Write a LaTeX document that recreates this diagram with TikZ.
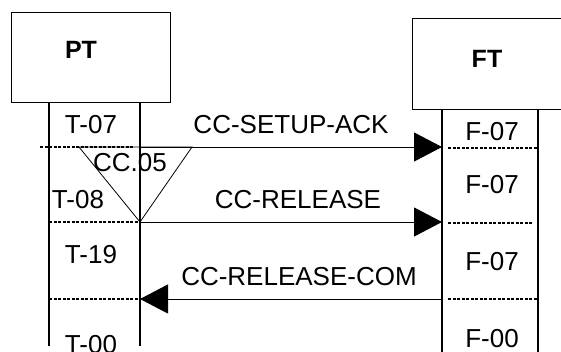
\documentclass[tikz,border=0pt]{standalone}
\usepackage{fontspec}
\setmainfont{Liberation Sans}
\usetikzlibrary{arrows.meta}
\begin{document}
\begin{tikzpicture}[x=1pt,y=-1pt,
  lbl/.style={font=\fontsize{26}{31}\selectfont, anchor=base, inner sep=0pt},
  ttl/.style={font=\fontsize{25}{30}\selectfont\bfseries, anchor=base, inner sep=0pt},
  box/.style={draw, line width=1pt, inner sep=0pt},
  life/.style={line width=2pt},
  sepline/.style={line width=1.5pt, dash pattern=on 3pt off 1.5pt},
  msg/.style={line width=1pt, -{Triangle[length=28pt,width=29pt]}},
  tri/.style={line width=0.8pt},
]
\useasboundingbox (0,0) rectangle (561,351);
\clip (0,0) rectangle (561,351);
% boxes
\node[box, minimum width=159pt, minimum height=90pt] (ptbox) at (90.5,57) {};
\node[box, minimum width=188pt, minimum height=91pt] (ftbox) at (506,63.5) {};
\node[ttl] (pt) at (81,58) {PT};
\node[ttl] (ft) at (487,67) {FT};
% lifelines
\coordinate (pla) at (49,102);  \coordinate (plb) at (49,346);
\coordinate (pra) at (140,102); \coordinate (prb) at (140,346);
\coordinate (fla) at (442,109); \coordinate (flb) at (442,352);
\coordinate (fra) at (538,109); \coordinate (frb) at (538,352);
\draw[life] (pla) -- (plb);
\draw[life] (pra) -- (prb);
\draw[life] (fla) -- (flb);
\draw[life] (fra) -- (frb);
% separators
\coordinate (s1a) at (40,147);  \coordinate (s1b) at (133,147);
\coordinate (s2a) at (49,222);  \coordinate (s2b) at (140,222);
\coordinate (s3a) at (49,299);  \coordinate (s3b) at (140,299);
\coordinate (s4a) at (448,148); \coordinate (s4b) at (538,148);
\coordinate (s5a) at (448,223); \coordinate (s5b) at (533,223);
\coordinate (s6a) at (448,299); \coordinate (s6b) at (538,299);
\draw[sepline] (s1a) -- (s1b);
\draw[sepline] (s2a) -- (s2b);
\draw[sepline] (s3a) -- (s3b);
\draw[sepline] (s4a) -- (s4b);
\draw[sepline] (s5a) -- (s5b);
\draw[sepline] (s6a) -- (s6b);
% timer triangle
\coordinate (ta) at (79,147); \coordinate (tb) at (192,147); \coordinate (tc) at (140,222);
\draw[tri] (ta) -- (tb) -- (tc) -- cycle;
% messages
\coordinate (m1a) at (140,147); \coordinate (m1b) at (442,147);
\coordinate (m2a) at (140,222); \coordinate (m2b) at (442,222);
\coordinate (m3a) at (442,299); \coordinate (m3b) at (140,299);
\draw[msg] (m1a) -- (m1b);
\draw[msg] (m2a) -- (m2b);
\draw[msg] (m3a) -- (m3b);
% labels
\node[lbl] (l1) at (291,133) {CC-SETUP-ACK};
\node[lbl] (l2) at (298,208) {CC-RELEASE};
\node[lbl] (l3) at (299,285) {CC-RELEASE-COM};
\node[lbl] (cc) at (130,171) {CC.05};
\node[lbl] (t07) at (91,133) {T-07};
\node[lbl] (t08) at (78,208) {T-08};
\node[lbl] (t19) at (91,263) {T-19};
\node[lbl] (t00) at (91,353) {T-00};
\node[lbl] (f07a) at (492,140) {F-07};
\node[lbl] (f07b) at (492,193) {F-07};
\node[lbl] (f07c) at (492,270) {F-07};
\node[lbl] (f00) at (492,347) {F-00};
\end{tikzpicture}
\end{document}
